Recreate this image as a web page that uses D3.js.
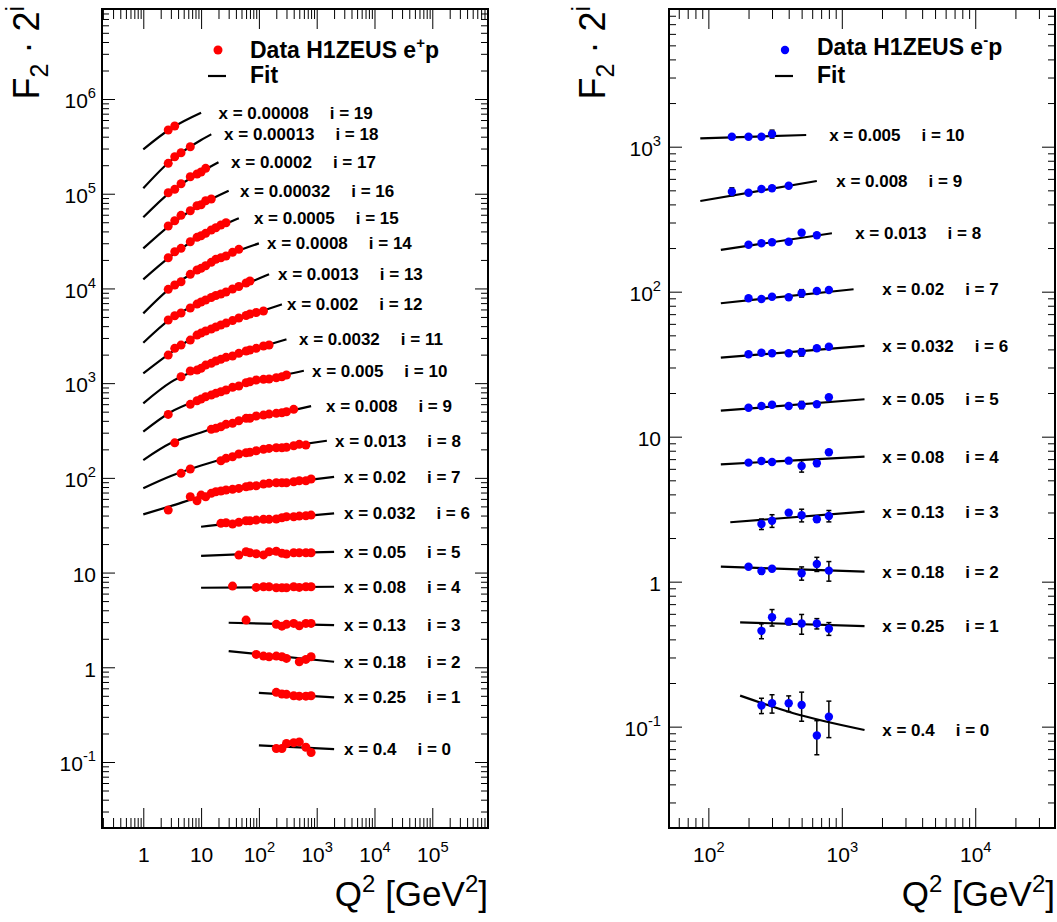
<!DOCTYPE html>
<html><head><meta charset="utf-8">
<script src="https://cdn.jsdelivr.net/npm/d3@7"></script>
<style>
body{margin:0;background:#fff;}
svg{display:block;font-family:"Liberation Sans",Arial,Helvetica,sans-serif;}
</style></head><body>
<svg id="chart" width="1057" height="922"></svg>
<script>
// ---------------- DATA (index = i) ----------------
const leftXBins = ["0.4","0.25","0.18","0.13","0.08","0.05","0.032","0.02","0.013","0.008","0.005","0.0032","0.002","0.0013","0.0008","0.0005","0.00032","0.0002","0.00013","0.00008"];
const leftQ2 = [
 [200,250,300,400,500,650,800],
 [200,250,300,400,500,650,800],
 [90,120,150,200,250,300,500,650,800],
 [60,200,250,300,400,500,650,800],
 [35,90,120,150,200,250,300,400,500,650,800],
 [45,60,70,90,120,150,200,250,300,400,500,650,800],
 [22,27,35,45,60,70,90,120,150,200,250,300,400,500,650,800],
 [2.7,6.5,8.5,10,12,15,18,22,27,35,45,60,70,90,120,150,200,250,300,400,500,650,800],
 [4.5,6.5,22,27,35,45,60,70,90,120,150,200,250,300,400,500,650],
 [3.5,15,18,22,27,35,45,60,70,90,120,150,200,250,300,400],
 [2.7,6.5,8.5,10,12,15,18,22,27,35,45,60,70,90,120,150,200,250,300],
 [4.5,6.5,8.5,10,12,15,18,22,27,35,45,60,70,90,120,150],
 [2.7,3.5,4.5,6.5,8.5,10,12,15,18,22,27,35,45,60,70,90,120],
 [2.7,3.5,4.5,6.5,8.5,10,12,15,18,22,27,35,45,60,70],
 [2.7,3.5,4.5,6.5,8.5,10,12,15,18,22,27,35,45],
 [2.7,3.5,4.5,6.5,8.5,10,12,15,18,22,27],
 [2.7,3.5,4.5,6.5,8.5,10,12,15],
 [2.7,3.5,4.5,6.5,8.5,10,12],
 [2.7,3.5,4.5,6.5],
 [2.7,3.5]
];
const leftF2 = [
 [0.139,0.139,0.157,0.160,0.163,0.143,0.126],
 [0.272,0.261,0.259,0.250,0.248,0.248,0.250],
 [0.342,0.328,0.323,0.328,0.323,0.310,0.286,0.303,0.323],
 [0.394,0.355,0.340,0.355,0.363,0.343,0.363,0.363],
 [0.450,0.436,0.443,0.443,0.432,0.432,0.432,0.443,0.436,0.443,0.443],
 [0.478,0.518,0.506,0.494,0.480,0.518,0.525,0.500,0.490,0.506,0.506,0.506,0.506],
 [0.517,0.524,0.508,0.530,0.551,0.551,0.560,0.570,0.570,0.574,0.592,0.607,0.607,0.617,0.622,0.632],
 [0.357,0.493,0.448,0.514,0.493,0.536,0.557,0.567,0.581,0.591,0.605,0.629,0.640,0.645,0.672,0.684,0.693,0.693,0.693,0.711,0.728,0.728,0.759],
 [0.436,0.484,0.592,0.628,0.653,0.697,0.719,0.726,0.755,0.781,0.800,0.812,0.812,0.820,0.853,0.882,0.867],
 [0.458,0.635,0.651,0.677,0.717,0.735,0.783,0.830,0.830,0.878,0.899,0.921,0.937,0.951,0.974,1.033],
 [0.457,0.583,0.636,0.663,0.702,0.731,0.762,0.792,0.826,0.882,0.910,0.986,1.010,1.053,1.071,1.079,1.114,1.141,1.189],
 [0.571,0.656,0.671,0.700,0.758,0.790,0.836,0.871,0.914,0.944,1.008,1.066,1.092,1.138,1.204,1.233],
 [0.483,0.569,0.616,0.696,0.786,0.825,0.867,0.910,0.955,1.003,1.052,1.118,1.189,1.263,1.310,1.359,1.409],
 [0.566,0.628,0.671,0.758,0.835,0.877,0.921,0.978,1.027,1.065,1.118,1.203,1.279,1.392,1.461],
 [0.597,0.663,0.718,0.860,0.955,0.995,1.060,1.151,1.239,1.288,1.342,1.468,1.579],
 [0.644,0.745,0.809,0.950,1.057,1.099,1.165,1.262,1.335,1.426,1.508],
 [0.696,0.791,0.902,1.009,1.140,1.168,1.287,1.341],
 [0.782,0.849,0.973,1.153,1.232,1.293,1.415],
 [0.799,0.938,1.034,1.196],
 [0.898,0.989]
];
const leftFitQ2 = [
 [100,2000],[100,2000],[30,2000],[30,2000],[10,2000],[10,100,2000],
 [10,30,100,300,2000],
 [1,3,10,30,100,300,2000],
 [1,3,10,30,100,300,1500],
 [1,3,10,30,100,300,800],
 [1,3,10,30,100,300,600],
 [1,3,10,30,100,300],
 [1,3,10,30,100,250],
 [1,3,10,30,100,150],
 [1,3,10,30,100],
 [1,3,10,30,45],
 [1,3,10,30],
 [1,3,10,20],
 [1,3,10,15],
 [1,3,10]
];
const leftFitF2 = [
 [0.150,0.137],[0.269,0.241],[0.371,0.286],[0.369,0.349],[0.432,0.443],[0.470,0.496,0.518],
 [0.476,0.514,0.560,0.595,0.659],
 [0.322,0.394,0.496,0.581,0.648,0.697,0.802],
 [0.303,0.408,0.527,0.640,0.759,0.836,0.963],
 [0.301,0.455,0.588,0.740,0.888,0.979,1.119],
 [0.300,0.484,0.663,0.846,1.066,1.204,1.320],
 [0.299,0.501,0.700,0.921,1.160,1.416],
 [0.310,0.514,0.825,1.065,1.375,1.658],
 [0.326,0.587,0.877,1.146,1.553,1.720],
 [0.333,0.624,0.995,1.392,1.827],
 [0.381,0.671,1.091,1.515,1.678],
 [0.404,0.722,1.173,1.641],
 [0.430,0.805,1.293,1.637],
 [0.435,0.855,1.408,1.617],
 [0.561,0.931,1.367]
];
const leftLabelQ2 = [2970,2970,2970,2970,2970,2970,2970,2970,2070,1450,829,494,306,214,138,82,47,33,25,20];

const rightXBins = ["0.4","0.25","0.18","0.13","0.08","0.05","0.032","0.02","0.013","0.008","0.005"];
const rightQ2 = [
 [250,300,400,500,650,800],
 [250,300,400,500,650,800],
 [200,250,300,500,650,800],
 [250,300,400,500,650,800],
 [200,250,300,400,500,650,800],
 [200,250,300,400,500,650,800],
 [200,250,300,400,500,650,800],
 [200,250,300,400,500,650,800],
 [200,250,300,400,500,650],
 [150,200,250,300,400],
 [150,200,250,300]
];
const rightF2 = [
 [0.140,0.145,0.145,0.141,0.087,0.117],
 [0.229,0.284,0.265,0.257,0.257,0.237],
 [0.317,0.296,0.307,0.286,0.331,0.298],
 [0.312,0.329,0.374,0.359,0.337,0.355],
 [0.414,0.425,0.418,0.427,0.392,0.410,0.488],
 [0.495,0.509,0.519,0.509,0.517,0.523,0.584],
 [0.578,0.593,0.588,0.588,0.597,0.636,0.652],
 [0.704,0.696,0.721,0.715,0.762,0.790,0.803],
 [0.824,0.843,0.856,0.864,0.997,0.957],
 [0.956,0.941,0.998,1.009,1.051],
 [1.145,1.145,1.145,1.195]
];
const rightErr = [
 [0.017,0.021,0.018,0.032,0.023,0.033],
 [0.027,0.037,0.013,0.040,0.021,0.024],
 [0.009,0.014,0.009,0.030,0.037,0.046],
 [0.026,0.033,0.010,0.036,0.016,0.032],
 [0.013,0.013,0.013,0.013,0.036,0.020,0.015],
 [0.010,0.010,0.010,0.010,0.030,0.015,0.015],
 [0.010,0.010,0.010,0.010,0.035,0.015,0.015],
 [0.012,0.012,0.012,0.012,0.045,0.020,0.020],
 [0.015,0.015,0.015,0.015,0.030,0.020],
 [0.060,0.020,0.020,0.020,0.020],
 [0.020,0.020,0.020,0.075]
];
const rightFitQ2 = [[173,434,1480],[173,1480],[124,1480],[146,1480],[124,1480],[124,1480],[124,1480],[124,1225],[124,843],[87,650],[87,541]];
const rightFitF2 = [[0.1636,0.1238,0.0949],[0.262,0.247],[0.317,0.293],[0.321,0.380],[0.403,0.455],[0.472,0.566],[0.548,0.660],[0.650,0.812],[0.758,0.988],[0.824,1.133],[1.116,1.176]];
const rightLabelQ2 = [2010,2010,2010,2010,2010,2010,2010,2010,1260,908,804];

const leftXTicks = [1,10,100,1000,10000,100000];
const leftYTicks = [0.1,1,10,100,1000,10000,100000,1000000];
const rightXTicks = [100,1000,10000];
const rightYTicks = [0.1,1,10,100,1000];

// ---------------- DRAWING ----------------
const svg = d3.select("#chart");
const FONT_TICK = 21;

function minorTicks(dom){
  const out=[]; const a=Math.floor(Math.log10(dom[0])), b=Math.ceil(Math.log10(dom[1]));
  for(let k=a;k<=b;k++) for(let m=2;m<=9;m++){const v=m*Math.pow(10,k); if(v>=dom[0]&&v<=dom[1]) out.push(v);}
  return out;
}
function powLabels(sel){
  sel.each(function(d){
    const e=Math.round(Math.log10(d));
    const t=d3.select(this).text(null).attr("font-size",FONT_TICK).attr("fill","#000");
    if(e===0) t.text("1");
    else if(e===1) t.text("10");
    else { t.append("tspan").text("10");
           t.append("tspan").attr("font-size",FONT_TICK*0.7).attr("dy",-FONT_TICK*0.48).text(e<0?"-"+(-e):String(e)); }
  });
}
function cleanAxis(g){ g.select(".domain").remove(); g.attr("font-size",null).attr("font-family",null); g.selectAll("line").attr("stroke","#000").attr("stroke-width",1);}

function panel(cfg){
  const x=d3.scaleLog().domain(cfg.xDomain).range([cfg.left,cfg.right]);
  const y=d3.scaleLog().domain(cfg.yDomain).range([cfg.bottom,cfg.top]);
  const g=svg.append("g");
  const mx=minorTicks(cfg.xDomain), my=minorTicks(cfg.yDomain);
  g.append("g").attr("transform",`translate(0,${cfg.bottom})`)
   .call(d3.axisBottom(x).tickValues(mx).tickSize(-10).tickSizeOuter(0).tickFormat(""))
   .call(cleanAxis);
  g.append("g").attr("transform",`translate(0,${cfg.bottom})`)
   .call(d3.axisBottom(x).tickValues(cfg.xTicks).tickSize(-20).tickSizeOuter(0).tickPadding(19))
   .call(cleanAxis).call(a=>a.selectAll("text").call(powLabels));
  g.append("g").attr("transform",`translate(0,${cfg.top})`)
   .call(d3.axisTop(x).tickValues(mx).tickSize(-10).tickSizeOuter(0).tickFormat("")).call(cleanAxis);
  g.append("g").attr("transform",`translate(0,${cfg.top})`)
   .call(d3.axisTop(x).tickValues(cfg.xTicks).tickSize(-20).tickSizeOuter(0).tickFormat("")).call(cleanAxis);
  g.append("g").attr("transform",`translate(${cfg.left},0)`)
   .call(d3.axisLeft(y).tickValues(my).tickSize(-7).tickSizeOuter(0).tickFormat("")).call(cleanAxis);
  g.append("g").attr("transform",`translate(${cfg.left},0)`)
   .call(d3.axisLeft(y).tickValues(cfg.yTicks).tickSize(-13).tickSizeOuter(0).tickPadding(cfg.yPad))
   .call(cleanAxis).call(a=>a.selectAll("text").attr("dy","0.42em").call(powLabels));
  g.append("g").attr("transform",`translate(${cfg.right},0)`)
   .call(d3.axisRight(y).tickValues(my).tickSize(-7).tickSizeOuter(0).tickFormat("")).call(cleanAxis);
  g.append("g").attr("transform",`translate(${cfg.right},0)`)
   .call(d3.axisRight(y).tickValues(cfg.yTicks).tickSize(-13).tickSizeOuter(0).tickFormat("")).call(cleanAxis);
  g.append("rect").attr("x",cfg.left).attr("y",cfg.top).attr("width",cfg.right-cfg.left).attr("height",cfg.bottom-cfg.top)
   .attr("fill","none").attr("stroke","#000").attr("stroke-width",2);

  const line=d3.line().x(d=>x(d[0])).y(d=>y(d[1])).curve(d3.curveMonotoneX);
  const n=cfg.Q2.length;
  for(let i=0;i<n;i++){
    const s=Math.pow(2,i);
    const fit=cfg.fitQ2[i].map((q,k)=>[q,cfg.fitF2[i][k]*s]);
    g.append("path").attr("d",line(fit)).attr("fill","none").attr("stroke","#000").attr("stroke-width",2.2);
    const pts=cfg.Q2[i].map((q,k)=>({q:q,v:cfg.F2[i][k]*s,e:cfg.err?cfg.err[i][k]*s:0}));
    if(cfg.err){
      const eg=g.append("g").attr("stroke","#000").attr("stroke-width",1.5);
      pts.forEach(p=>{
        const y1=y(p.v-p.e), y2=y(p.v+p.e), xx=x(p.q);
        eg.append("line").attr("x1",xx).attr("x2",xx).attr("y1",y1).attr("y2",y2);
        eg.append("line").attr("x1",xx-2.5).attr("x2",xx+2.5).attr("y1",y1).attr("y2",y1);
        eg.append("line").attr("x1",xx-2.5).attr("x2",xx+2.5).attr("y1",y2).attr("y2",y2);
      });
    }
    g.append("g").selectAll("circle").data(pts).join("circle")
     .attr("cx",d=>x(d.q)).attr("cy",d=>y(d.v)).attr("r",cfg.r).attr("fill",cfg.color);
    const last=fit[fit.length-1];
    const t=g.append("text").attr("x",x(cfg.labelQ2[i])).attr("y",y(last[1])).attr("dy","0.36em")
      .attr("font-size",17).attr("font-weight","bold");
    t.append("tspan").text("x = "+cfg.bins[i]);
    t.append("tspan").attr("dx",21).text("i = "+i);
  }
  const yt=svg.append("text").attr("transform",`translate(${cfg.ytX},6) rotate(-90)`).attr("text-anchor","end").attr("font-size",36);
  yt.append("tspan").text("F");
  yt.append("tspan").attr("font-size",25).attr("dy",9).text("2");
  yt.append("tspan").attr("dy",-9).text(" \u00B7 2");
  yt.append("tspan").attr("font-size",25).attr("dy",-15).text("i");
  const xt=svg.append("text").attr("x",cfg.right).attr("y",906).attr("text-anchor","end").attr("font-size",35);
  xt.append("tspan").text("Q");
  xt.append("tspan").attr("font-size",24).attr("dy",-14).text("2");
  xt.append("tspan").attr("dy",14).text(" [GeV");
  xt.append("tspan").attr("font-size",24).attr("dy",-14).text("2");
  xt.append("tspan").attr("dy",14).text("]");
  const lg=svg.append("g");
  lg.append("circle").attr("cx",cfg.legX-32).attr("cy",50).attr("r",cfg.r).attr("fill",cfg.color);
  const lt=lg.append("text").attr("x",cfg.legX).attr("y",cfg.legY).attr("font-size",23).attr("font-weight","bold");
  lt.append("tspan").text("Data H1ZEUS e");
  lt.append("tspan").attr("font-size",15).attr("dy",-10).text(cfg.charge);
  lt.append("tspan").attr("dy",10).text("p");
  lg.append("line").attr("x1",cfg.legX-42).attr("x2",cfg.legX-24).attr("y1",76).attr("y2",76).attr("stroke","#000").attr("stroke-width",2.2);
  lg.append("text").attr("x",cfg.legX).attr("y",83).attr("font-size",23).attr("font-weight","bold").text("Fit");
}

panel({left:102,right:488,top:9,bottom:828,xDomain:[0.193,9.2e5],yDomain:[0.0201,8.92e6],
  xTicks:leftXTicks,yTicks:leftYTicks,yPad:6,Q2:leftQ2,F2:leftF2,fitQ2:leftFitQ2,fitF2:leftFitF2,
  labelQ2:leftLabelQ2,bins:leftXBins,color:"#ff0000",r:4.5,ytX:39,legX:250,legY:58,charge:"+"});
panel({left:669,right:1055,top:9,bottom:828,xDomain:[50.7,39600],yDomain:[0.02,8906],
  xTicks:rightXTicks,yTicks:rightYTicks,yPad:8,Q2:rightQ2,F2:rightF2,err:rightErr,fitQ2:rightFitQ2,fitF2:rightFitF2,
  labelQ2:rightLabelQ2,bins:rightXBins,color:"#0000ff",r:4.2,ytX:605,legX:817,legY:55,charge:"-"});
</script>
</body></html>
